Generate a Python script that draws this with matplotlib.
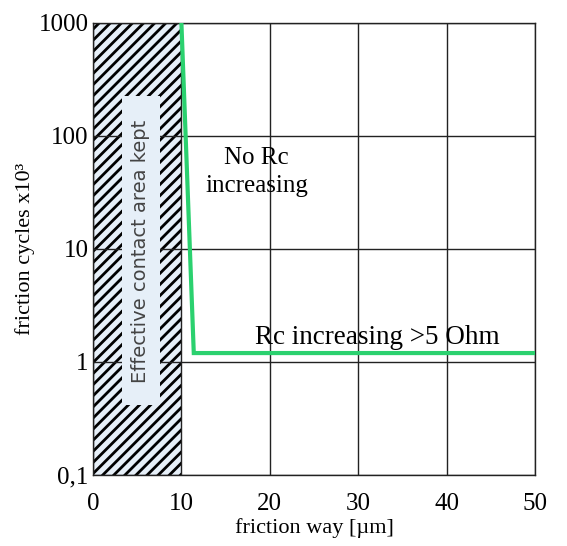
"""Friction cycles vs friction way, with hatched contact-area region."""

import matplotlib
matplotlib.use("Agg")
import matplotlib.pyplot as plt
from matplotlib.patches import Rectangle
from matplotlib.ticker import FixedLocator, NullLocator

# data
friction_way = [10, 11.4, 50]
friction_cycles = [1000, 1.2, 1.2]
kept_region = [0, 10]          # x span of the hatched "contact area kept" zone
x_ticks = [0, 10, 20, 30, 40, 50]
y_ticks = [0.1, 1, 10, 100, 1000]
y_tick_labels = ["0,1", "1", "10", "100", "1000"]

GREEN = "#2bd16f"
PALE_BLUE = "#e6eff8"
SERIF = "Liberation Serif"

plt.rcParams["hatch.linewidth"] = 2.0

fig = plt.figure(figsize=(5.67, 5.46), dpi=100)
ax = fig.add_axes([93 / 567, 0.130, (535 - 93) / 567, 0.958 - 0.130])

ax.set_yscale("log")
ax.set_xlim(0, 50)
ax.set_ylim(0.1, 1000)

# hatched region
ax.add_patch(Rectangle(
    (kept_region[0], 0.1), kept_region[1] - kept_region[0], 1000 - 0.1,
    facecolor=PALE_BLUE, edgecolor="black", hatch="///", linewidth=0, zorder=1,
))
# label box inside the hatch
ax.add_patch(Rectangle(
    (3.3, 0.42), 7.6 - 3.3, 225 - 0.42,
    facecolor=PALE_BLUE, edgecolor="none", zorder=2,
))
ax.text(5.4, 9.5, "Effective contact area kept", rotation=90,
        ha="center", va="center", fontsize=14, color="#444444",
        family="DejaVu Sans", zorder=3)

ax.plot(friction_way, friction_cycles, color=GREEN, linewidth=3, zorder=4,
        solid_joinstyle="miter")

ax.text(18.5, 48, "No Rc\nincreasing", ha="center", va="center",
        fontsize=18, family=SERIF, linespacing=1.4, zorder=3)
ax.text(32.2, 1.66, "Rc increasing >5 Ohm", ha="center", va="center",
        fontsize=19.5, family=SERIF, zorder=3)

ax.xaxis.set_major_locator(FixedLocator(x_ticks))
ax.yaxis.set_major_locator(FixedLocator(y_ticks))
ax.yaxis.set_minor_locator(NullLocator())
ax.set_yticklabels(y_tick_labels)
ax.grid(True, which="major", color="#222222", linewidth=1.0)
ax.set_axisbelow("line")

ax.tick_params(axis="x", length=0, pad=13, labelsize=18)
ax.tick_params(axis="y", length=0, pad=3, labelsize=18)
for lbl in ax.get_xticklabels() + ax.get_yticklabels():
    lbl.set_family(SERIF)

for sp in ax.spines.values():
    sp.set_color("#222222")
    sp.set_linewidth(1.0)

ax.set_xlabel("friction way [µm]", family=SERIF, fontsize=16, labelpad=2)
ax.set_ylabel("friction cycles x10³", family=SERIF, fontsize=16, labelpad=3)

fig.savefig("out.png", dpi=100)
